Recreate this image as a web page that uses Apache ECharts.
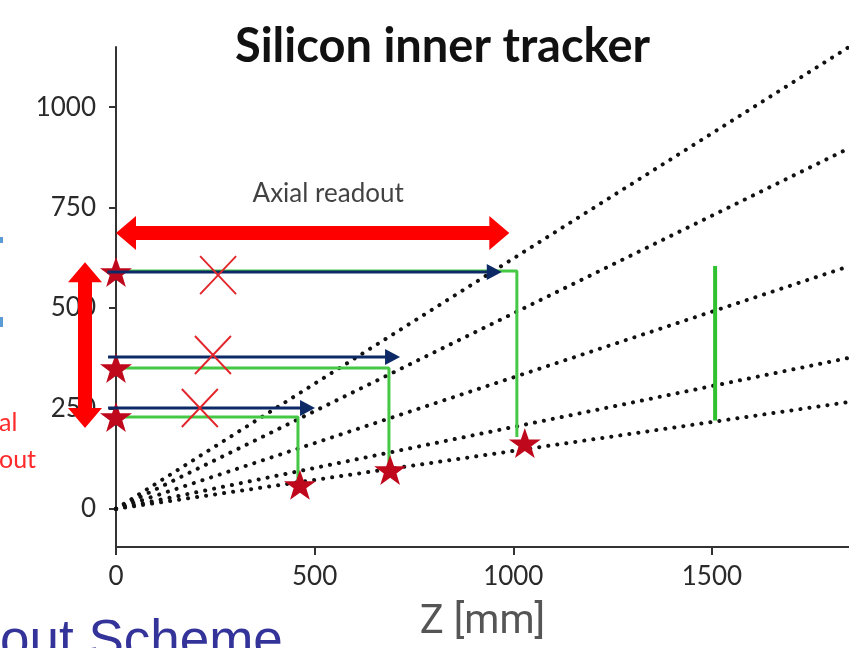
<!DOCTYPE html>
<html>
<head>
<meta charset="utf-8">
<script src="https://cdn.jsdelivr.net/npm/echarts@6.0.0/dist/echarts.min.js"></script>
<style>
  html, body { margin: 0; padding: 0; background: #fff; }
  #main { width: 849px; height: 648px; }
</style>
</head>
<body>
<div id="main"></div>
<script>
// axis ticks
const xTicks = [0, 500, 1000, 1500]
const yTicks = [0, 250, 500, 750, 1000]

// dotted rays from the origin (end points)
const rayEnds = [[1845, 1150], [1845, 898], [1845, 604], [1845, 376], [1845, 266]]

// green readout paths
const greenPaths = [
  [[0, 229], [458, 229], [458, 60]],
  [[0, 351], [687, 351], [687, 114]],
  [[0, 592], [1009, 592], [1009, 179]]
]
const greenBar = [[1508, 220], [1508, 605]]

// hits (stars) and ghost hits (crosses)
const starPoints = [[0, 590], [0, 351], [0, 229], [463, 60], [690, 97], [1029, 164]]
const crossPoints = [[257, 582], [244, 383], [211, 251]]

// arrows: [z1, r1, z2, r2]
const navyArrows = [[-20, 251, 501, 251], [-20, 378, 715, 378], [-22, 590, 971, 590]]
const redArrows = [[0, 687, 990, 687], [-78, 201, -78, 614]]

const annotations = [[534, 784, 'Axial readout']]

const STAR = 'path://M50,0L61.8,34.5L97.6,34.5L68.8,55.9L79.4,90.5L50,69.1L20.6,90.5L31.2,55.9L2.4,34.5L38.2,34.5Z'
const CROSS = 'path://M0,0L10,10M10,0L0,10'

// 箭头: 在像素坐标里拼多边形
function arrowRender (opt) {
  return function (params, api) {
    const p1 = api.coord([api.value(0), api.value(1)])
    const p2 = api.coord([api.value(2), api.value(3)])
    const dx = p2[0] - p1[0]
    const dy = p2[1] - p1[1]
    const len = Math.sqrt(dx * dx + dy * dy)
    const ux = dx / len
    const uy = dy / len
    const w = opt.shaft / 2
    const L = opt.headLen
    const H = opt.headHalf
    let local
    if (opt.both) {
      local = [[0, 0], [L, -H], [L, -w], [len - L, -w], [len - L, -H], [len, 0],
        [len - L, H], [len - L, w], [L, w], [L, H]]
    } else {
      local = [[0, -w], [len - L, -w], [len - L, -H], [len, 0], [len - L, H], [len - L, w], [0, w]]
    }
    const points = local.map(p => [p1[0] + p[0] * ux - p[1] * uy, p1[1] + p[0] * uy + p[1] * ux])
    return {
      type: 'polygon',
      shape: { points: points },
      style: { fill: opt.color }
    }
  }
}

const chart = echarts.init(document.getElementById('main'))

const series = []

rayEnds.forEach(end => {
  series.push({
    type: 'line',
    data: [[0, 0], end],
    symbol: 'none',
    silent: true,
    lineStyle: { color: '#111', width: 4, type: [0.1, 9], cap: 'round' },
    z: 2
  })
})

greenPaths.forEach(path => {
  series.push({
    type: 'line',
    data: path,
    symbol: 'none',
    silent: true,
    lineStyle: { color: '#45c845', width: 3 },
    z: 3
  })
})

series.push({
  type: 'line',
  data: greenBar,
  symbol: 'none',
  silent: true,
  lineStyle: { color: '#2fc12f', width: 4 },
  z: 3
})

series.push({
  type: 'custom',
  data: navyArrows,
  clip: false,
  silent: true,
  renderItem: arrowRender({ shaft: 3, headLen: 15, headHalf: 8, color: '#0d2a66', both: false }),
  z: 4
})

series.push({
  type: 'scatter',
  data: starPoints,
  symbol: STAR,
  symbolSize: [32, 30],
  silent: true,
  itemStyle: { color: '#c0081c', opacity: 1 },
  z: 3
})

series.push({
  type: 'scatter',
  data: crossPoints,
  symbol: CROSS,
  symbolSize: [36, 38],
  silent: true,
  itemStyle: { color: 'rgba(0,0,0,0)', borderColor: '#e3262b', borderWidth: 2, opacity: 1 },
  z: 5
})

series.push({
  type: 'custom',
  data: redArrows,
  clip: false,
  silent: true,
  renderItem: arrowRender({ shaft: 14, headLen: 20, headHalf: 17, color: '#ff0000', both: true }),
  z: 6
})

series.push({
  type: 'scatter',
  data: annotations,
  symbolSize: 0,
  silent: true,
  label: {
    show: true,
    position: 'inside',
    formatter: p => p.value[2],
    fontFamily: 'Lato',
    fontSize: 26,
    color: '#111'
  },
  z: 6
})

const option = {
  animation: false,
  backgroundColor: '#fff',
  title: {
    text: 'Silicon inner tracker',
    left: 230,
    top: 18,
    textStyle: { fontFamily: 'Lato', fontWeight: 'bold', fontSize: 47, color: '#111' }
  },
  grid: { left: 116, right: 0, top: 47, bottom: 101, outerBoundsMode: 'none' },
  xAxis: {
    type: 'value',
    min: 0,
    max: 1845,
    name: 'Z [mm]',
    nameLocation: 'middle',
    nameGap: 56,
    nameTextStyle: { fontFamily: 'Roboto', fontSize: 40, color: '#555' },
    axisLine: { onZero: false, lineStyle: { color: '#333', width: 2 } },
    axisTick: { customValues: xTicks, length: 8, lineStyle: { color: '#333', width: 2 } },
    axisLabel: { customValues: xTicks, formatter: v => String(v), margin: 17, fontFamily: 'Lato', fontSize: 26, color: '#2a2a2a' },
    splitLine: { show: false }
  },
  yAxis: {
    type: 'value',
    min: -95,
    max: 1150,
    axisLine: { show: true, onZero: false, lineStyle: { color: '#333', width: 2 } },
    axisTick: { show: true, customValues: yTicks, length: 7, lineStyle: { color: '#333', width: 2 } },
    axisLabel: { customValues: yTicks, formatter: v => String(v), margin: 20, fontFamily: 'Lato', fontSize: 26, color: '#2a2a2a' },
    splitLine: { show: false }
  },
  graphic: [
    { type: 'rect', left: 0, top: 237, shape: { width: 3, height: 6 }, style: { fill: '#5b9bd5' } },
    { type: 'rect', left: 0, top: 317, shape: { width: 3, height: 10 }, style: { fill: '#5b9bd5' } },
    { type: 'text', left: -1, top: 410, style: { text: 'al', font: '25px Lato', fill: '#ff2a2a' } },
    { type: 'text', left: -1, top: 447, style: { text: 'out', font: '25px Lato', fill: '#ff2a2a' } },
    { type: 'text', left: 0, top: 616, style: { text: 'out Scheme', font: '53px "Liberation Sans"', fill: '#333399' } }
  ],
  series: series
}

chart.setOption(option)
</script>
</body>
</html>
